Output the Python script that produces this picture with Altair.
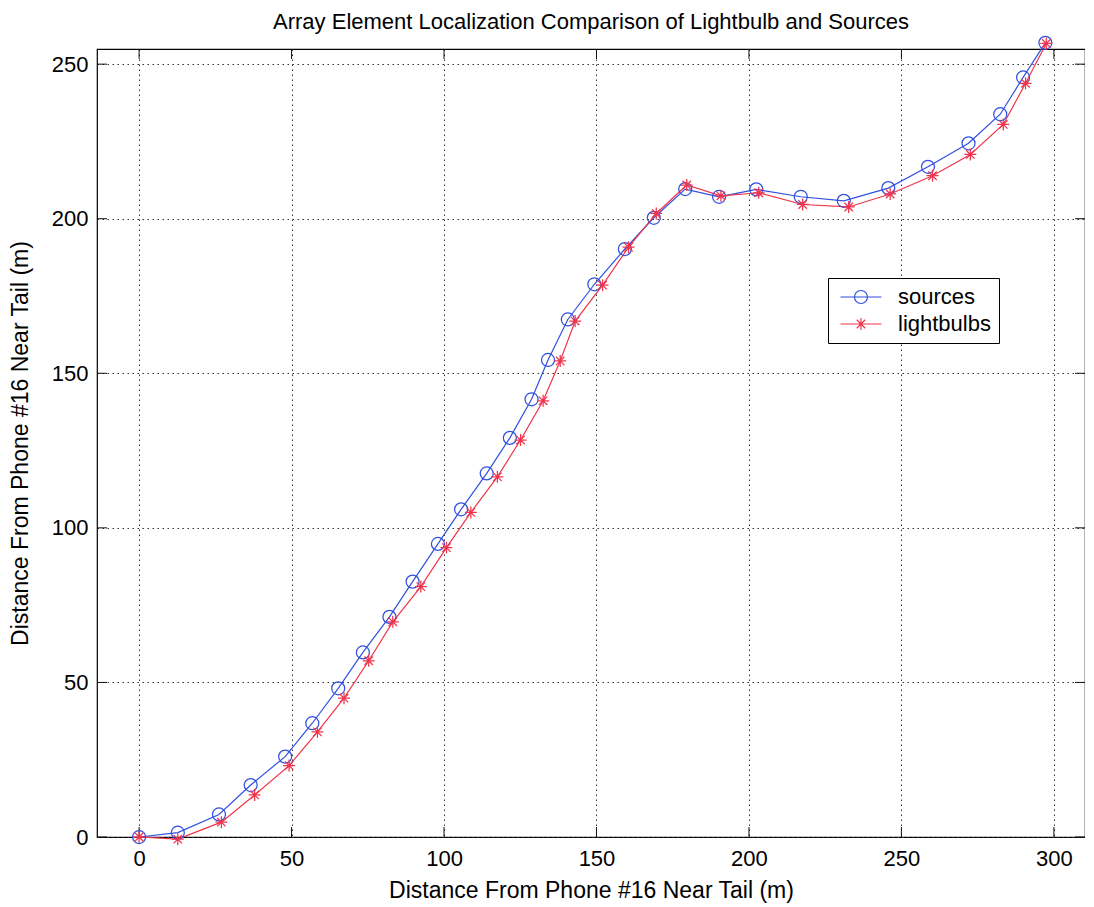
import altair as alt
import pandas as pd

# ---- data ----
series_names = ["sources", "lightbulbs"]
series_colors = ["#3050e0", "#f0344c"]

src_x = [0, 12.7, 26.2, 36.6, 47.9, 56.8, 65.3, 73.4, 82.1, 89.7, 98.0, 105.6, 114.0,
         121.6, 128.7, 134.1, 140.6, 149.3, 159.3, 168.8, 179.1, 190.2, 202.4, 217.0,
         231.1, 245.7, 258.7, 272.0, 282.4, 289.9, 297.2]
src_y = [0, 1.4, 7.3, 16.8, 26.0, 36.8, 48.1, 59.7, 71.2, 82.6, 94.8, 106.0, 117.6,
         129.1, 141.6, 154.3, 167.4, 178.8, 190.2, 200.3, 209.6, 207.1, 209.5, 207.1,
         205.8, 209.9, 216.8, 224.4, 233.8, 245.7, 256.9]

bulb_x = [0, 12.7, 27.0, 37.9, 49.2, 58.5, 67.2, 75.3, 83.2, 92.4, 100.8, 108.8, 117.5,
          125.1, 132.5, 138.1, 143.0, 152.0, 160.5, 169.6, 179.6, 190.8, 203.2, 217.6,
          232.7, 246.3, 260.2, 272.6, 283.4, 290.7, 297.5]
bulb_y = [0, -0.7, 4.8, 13.6, 23.1, 34.0, 44.9, 57.0, 69.6, 81.0, 93.6, 105.0, 116.5,
          128.4, 141.1, 154.0, 166.9, 178.5, 190.8, 201.7, 210.9, 207.4, 208.4, 204.6,
          203.8, 208.0, 213.9, 220.8, 230.5, 243.8, 256.7]

x_ticks = [0, 50, 100, 150, 200, 250, 300]
y_ticks = [0, 50, 100, 150, 200, 250]
x_domain = [-13.8, 310.2]
y_domain = [0, 254.9]

title_text = "Array Element Localization Comparison of Lightbulb and Sources"
x_title = "Distance From Phone #16 Near Tail (m)"
y_title = "Distance From Phone #16 Near Tail (m)"

# ---- tables ----
rows = []
for i, (x, y) in enumerate(zip(src_x, src_y)):
    rows.append({"x": x, "y": y, "series": series_names[0], "idx": i})
for i, (x, y) in enumerate(zip(bulb_x, bulb_y)):
    rows.append({"x": x, "y": y, "series": series_names[1], "idx": i})
df = pd.DataFrame(rows)
xt = pd.DataFrame({"x": x_ticks})
yt = pd.DataFrame({"y": y_ticks})

W, H = 988, 788
FONT = "Liberation Sans"
TICK = 10

xs = alt.Scale(domain=x_domain, nice=False, zero=False)
ys = alt.Scale(domain=y_domain, nice=False, zero=False)
cs = alt.Scale(domain=series_names, range=series_colors)

star = "M-0.92,0L0.92,0M0,-0.92L0,0.92M-0.65,-0.65L0.65,0.65M-0.65,0.65L0.65,-0.65"
legend_circle = "M-1,0L5.3,0M1.15,0A1,1,0,1,0,3.15,0A1,1,0,1,0,1.15,0"
legend_star = "M-1,0L5.3,0M2.15,-0.92L2.15,0.92M1.5,-0.65L2.8,0.65M1.5,0.65L2.8,-0.65"

x_axis = alt.Axis(values=x_ticks, title=x_title, ticks=False, domain=False, grid=True,
                  gridDash=[1.5, 3.5], gridColor="#333333", gridWidth=1,
                  labelFontSize=22, labelFont=FONT, labelColor="black", labelPadding=11,
                  titleFontSize=23, titleFont=FONT, titleFontWeight="normal", titleColor="black",
                  titlePadding=10)
y_axis = alt.Axis(values=y_ticks, title=y_title, ticks=False, domain=False, grid=True,
                  gridDash=[1.5, 3.5], gridColor="#333333", gridWidth=1,
                  labelFontSize=22, labelFont=FONT, labelColor="black", labelPadding=9,
                  titleFontSize=23, titleFont=FONT, titleFontWeight="normal", titleColor="black",
                  titlePadding=19)

X = alt.X("x:Q", scale=xs, axis=x_axis)
Y = alt.Y("y:Q", scale=ys, axis=y_axis)

layers = []
marker_shapes = ["circle", star]
for name, col, shp in zip(series_names, series_colors, marker_shapes):
    base = alt.Chart(df).transform_filter(alt.datum.series == name)
    layers.append(base.mark_line(strokeWidth=1.2, color=col).encode(x=X, y=Y, order="idx:Q"))
for name, col, shp in zip(series_names, series_colors, marker_shapes):
    base = alt.Chart(df).transform_filter(alt.datum.series == name)
    layers.append(base.mark_point(filled=False, size=169, strokeWidth=1.25, opacity=1,
                                  shape=shp, color=col).encode(x=X, y=Y))

legend_props = dict(title=None, orient="none", legendX=731, legendY=229,
                    labelFontSize=22, labelFont=FONT, labelColor="black",
                    strokeColor="black", fillColor="white", padding=8,
                    symbolSize=169, symbolStrokeWidth=1.2, symbolOpacity=1,
                    symbolFillColor="transparent",
                    labelOffset=40, rowPadding=5, cornerRadius=0)

legend_layer = alt.Chart(df).transform_filter("false").mark_point(
    filled=False, size=169, strokeWidth=1.2, opacity=1).encode(
    shape=alt.Shape("series:N",
                    scale=alt.Scale(domain=series_names, range=[legend_circle, legend_star]),
                    legend=alt.Legend(**legend_props)),
    color=alt.Color("series:N", scale=cs, legend=alt.Legend(**legend_props)),
)

tick_color = "#111111"
xt_bottom = alt.Chart(xt).mark_rule(color=tick_color, strokeWidth=1).encode(
    x=X, y=alt.value(H), y2=alt.value(H - TICK))
xt_top = alt.Chart(xt).mark_rule(color=tick_color, strokeWidth=1).encode(
    x=X, y=alt.value(0), y2=alt.value(TICK))
yt_left = alt.Chart(yt).mark_rule(color=tick_color, strokeWidth=1).encode(
    y=Y, x=alt.value(0), x2=alt.value(TICK))
yt_right = alt.Chart(yt).mark_rule(color=tick_color, strokeWidth=1).encode(
    y=Y, x=alt.value(W), x2=alt.value(W - TICK))

chart = alt.layer(
    layers[0], xt_bottom, xt_top, yt_left, yt_right, *layers[1:], legend_layer
).properties(
    width=W, height=H,
    title=alt.TitleParams(title_text, fontSize=22, font=FONT, fontWeight="normal",
                          color="black", anchor="middle", offset=0),
    padding={"left": 89, "top": 41, "right": 0, "bottom": 68},
    autosize=alt.AutoSizeParams(type="none"),
    background="white",
).configure_view(stroke="black", strokeWidth=1.2)

chart.save("out.html", embed_options={"renderer": "svg", "actions": False})
